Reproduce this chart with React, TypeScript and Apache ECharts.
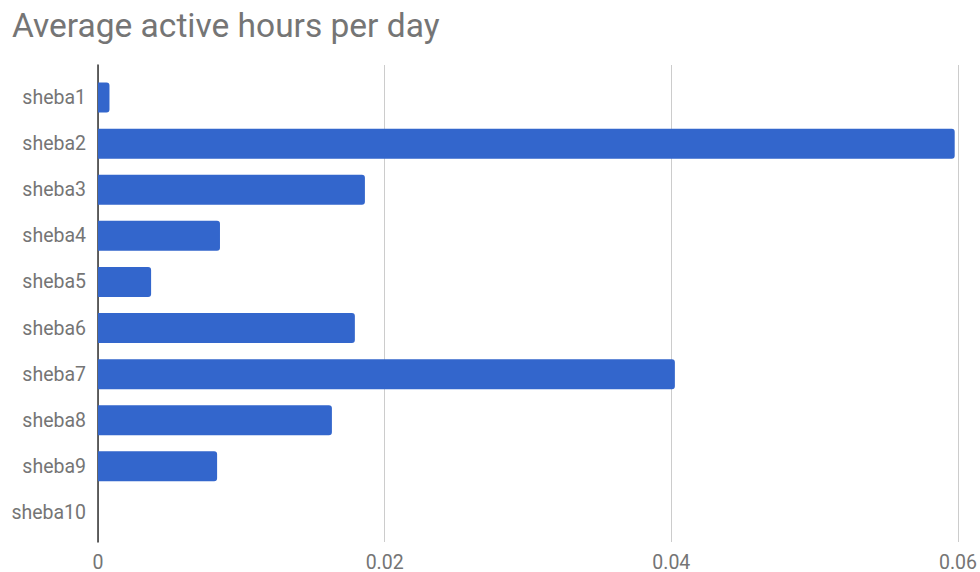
import React, { useEffect, useRef } from "react";
import * as echarts from "echarts";

const categories = [
  "sheba1",
  "sheba2",
  "sheba3",
  "sheba4",
  "sheba5",
  "sheba6",
  "sheba7",
  "sheba8",
  "sheba9",
  "sheba10",
];

const hoursPerDay = [
  0.0008, 0.0597, 0.0186, 0.0085, 0.0037, 0.0179, 0.0402, 0.0163, 0.0083, 0,
];

const xMin = 0;
const xMax = 0.06;
const xStep = 0.02;

const TEXT_GREY = "#757575";
const BAR_BLUE = "#3366cc";

export default function App() {
  const ref = useRef<HTMLDivElement>(null);

  useEffect(() => {
    if (!ref.current) return;
    const chart = echarts.init(ref.current, undefined, { renderer: "svg" });
    chart.setOption({
      animation: false,
      backgroundColor: "#ffffff",
      textStyle: { fontFamily: "Roboto" },
      title: {
        text: "Average active hours per day",
        left: 7,
        top: 3,
        textStyle: {
          fontFamily: "Roboto",
          fontSize: 33.5,
          fontWeight: "normal",
          color: TEXT_GREY,
        },
      },
      grid: [
        // frame grid: gridlines, tick labels and baseline span the full height
        { left: 98, right: 21, top: 65, bottom: 29, containLabel: false },
        // bar grid: categories occupy the inner band
        { left: 98, right: 21, top: 74.5, bottom: 36.5, containLabel: false },
      ],
      xAxis: [
        {
          gridIndex: 0,
          type: "value",
          min: xMin,
          max: xMax,
          interval: xStep,
          axisLine: { show: false },
          axisTick: { show: false },
          splitLine: { show: true, lineStyle: { color: "#cccccc", width: 1 } },
          axisLabel: {
            color: TEXT_GREY,
            fontSize: 19.5,
            fontFamily: "Roboto",
            margin: 10,
            formatter: (v: number) => String(parseFloat(v.toFixed(4))),
            showMinLabel: true,
            showMaxLabel: true,
          },
        },
        {
          gridIndex: 1,
          type: "value",
          min: xMin,
          max: xMax,
          interval: xStep,
          show: false,
        },
      ],
      yAxis: [
        {
          gridIndex: 0,
          type: "value",
          min: 0,
          max: 1,
          axisLine: { show: true, onZero: false, lineStyle: { color: "#333333", width: 1.5 } },
          axisTick: { show: false },
          axisLabel: { show: false },
          splitLine: { show: false },
        },
        {
          gridIndex: 1,
          type: "category",
          data: categories,
          inverse: true,
          axisLine: { show: false },
          axisTick: { show: false },
          splitLine: { show: false },
          axisLabel: {
            color: TEXT_GREY,
            fontSize: 19.5,
            fontFamily: "Roboto",
            margin: 12,
          },
        },
      ],
      series: [
        {
          type: "bar",
          xAxisIndex: 1,
          yAxisIndex: 1,
          data: hoursPerDay,
          barWidth: 30,
          itemStyle: { color: BAR_BLUE, borderRadius: [0, 3, 3, 0] },
          z: 3,
        },
      ],
    });
    return () => chart.dispose();
  }, []);

  return (
    <div
      ref={ref}
      style={{ position: "fixed", left: 0, top: 0, width: 980, height: 572 }}
    />
  );
}
